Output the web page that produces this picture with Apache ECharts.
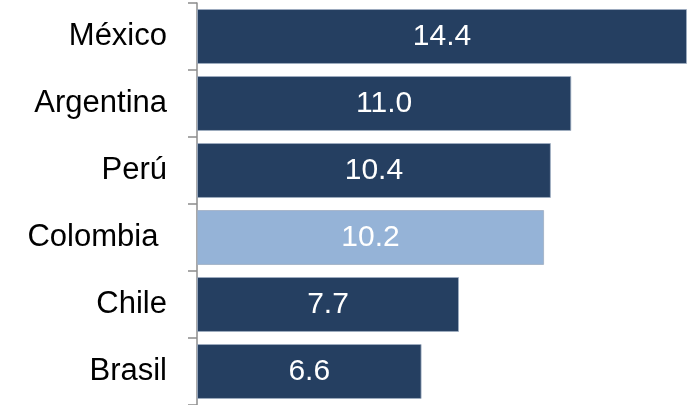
<!DOCTYPE html>
<html>
<head>
<meta charset="utf-8">
<script src="https://cdn.jsdelivr.net/npm/echarts@6/dist/echarts.min.js"></script>
<style>
  html, body { margin: 0; padding: 0; background: #fff; }
  #chart { width: 687px; height: 405px; }
</style>
</head>
<body>
<div id="chart"></div>
<script>
// datos del gráfico
var paises = ['México', 'Argentina', 'Perú', 'Colombia', 'Chile', 'Brasil'];
var valores = [14.4, 11.0, 10.4, 10.2, 7.7, 6.6];
var resaltado = 'Colombia';

var myChart = echarts.init(document.getElementById('chart'));

var option = {
  animation: false,
  grid: { left: 197, right: 0, top: 3, height: 406 },
  xAxis: {
    type: 'value',
    min: 0,
    max: 14.4,
    show: false
  },
  yAxis: {
    type: 'category',
    data: paises,
    inverse: true,
    axisLine: { show: true, lineStyle: { color: '#8c8c8c', width: 1.5 } },
    axisTick: { show: true, length: 9, interval: 0, lineStyle: { color: '#8c8c8c', width: 1.5 } },
    axisLabel: {
      margin: 30,
      color: '#000',
      fontSize: 31,
      fontFamily: 'Liberation Sans, Arial, sans-serif',
      // en el original "Colombia" lleva un espacio al final
      formatter: function (v) { return v === resaltado ? v + ' ' : v; }
    }
  },
  series: [
    {
      type: 'bar',
      barCategoryGap: '18%',
      data: valores.map(function (v, i) {
        return {
          value: v,
          itemStyle: { color: paises[i] === resaltado ? '#95b3d7' : '#253f61' }
        };
      }),
      itemStyle: { borderColor: 'rgba(160,175,195,0.8)', borderWidth: 1 },
      label: {
        show: true,
        position: 'inside',
        color: '#fff',
        fontSize: 30,
        fontFamily: 'Liberation Sans, Arial, sans-serif',
        formatter: function (p) { return p.value.toFixed(1); }
      }
    }
  ]
};

myChart.setOption(option);
</script>
</body>
</html>
